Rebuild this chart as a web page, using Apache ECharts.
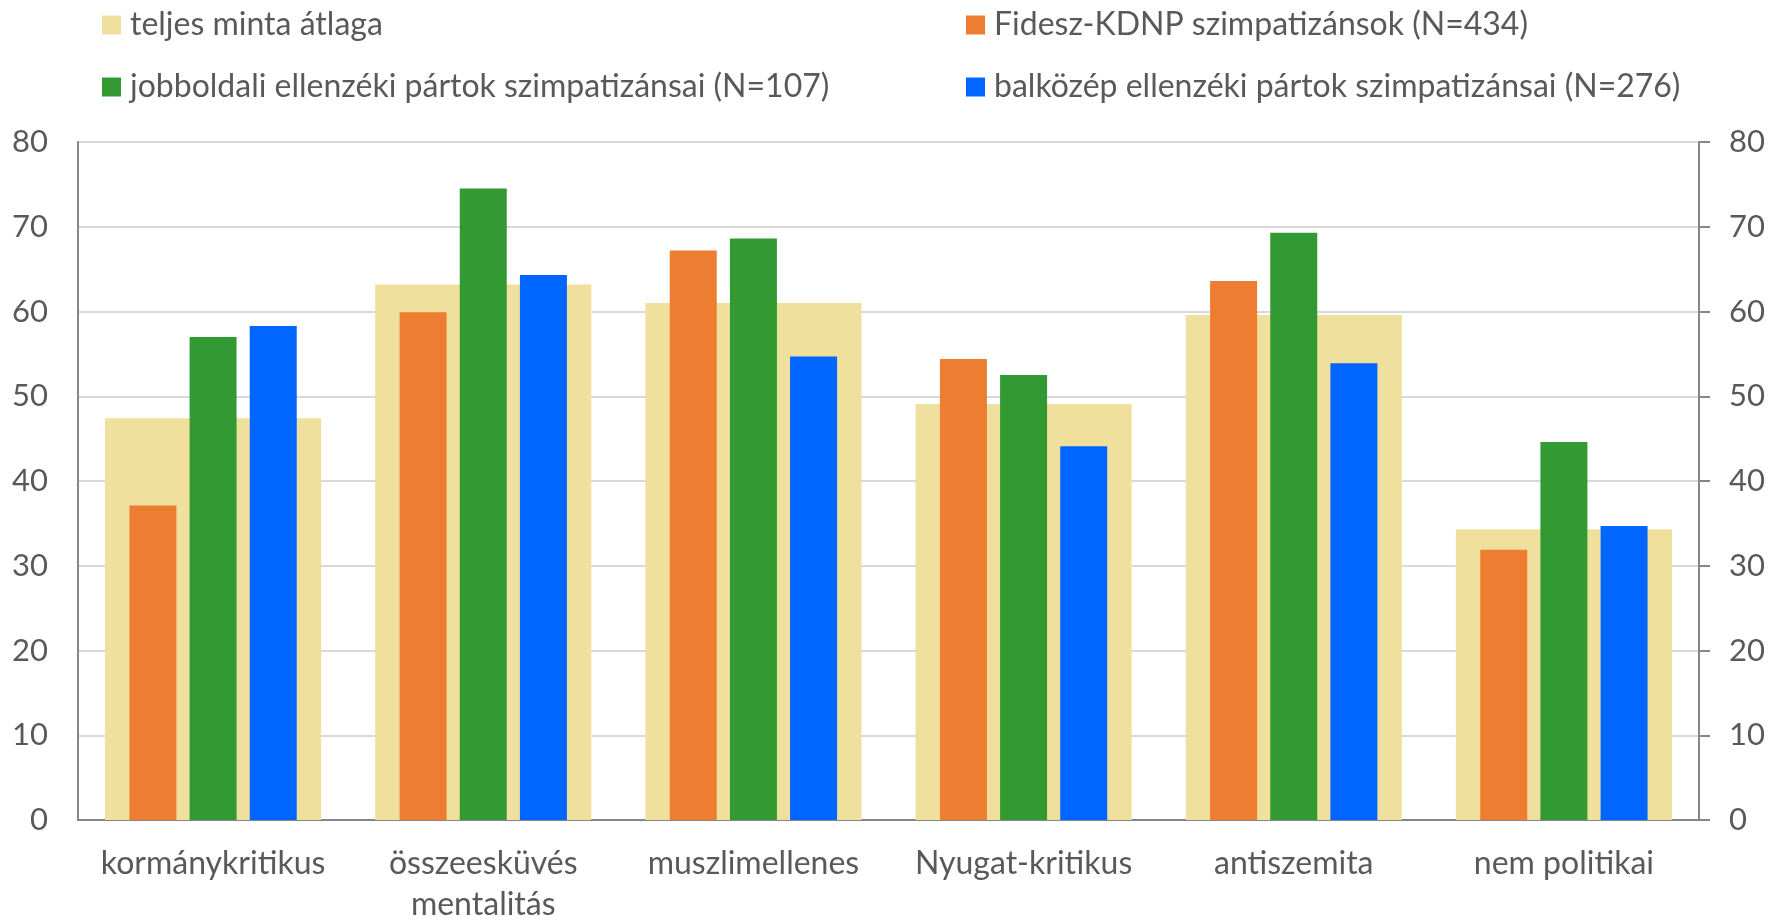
<!DOCTYPE html>
<html>
<head>
<meta charset="utf-8">
<script src="https://cdn.jsdelivr.net/npm/echarts@6/dist/echarts.min.js"></script>
<style>
  html, body { margin: 0; padding: 0; background: #fff; }
  #chart { width: 1785px; height: 920px; }
</style>
</head>
<body>
<div id="chart"></div>
<script>
// kategóriák
const categories = ['kormánykritikus', 'összeesküvés\nmentalitás', 'muszlimellenes', 'Nyugat-kritikus', 'antiszemita', 'nem politikai']
// sorozatok
const teljes = [47.4, 63.2, 61.0, 49.1, 59.6, 34.3]
const fidesz = [37.1, 59.9, 67.2, 54.4, 63.6, 31.9]
const jobboldali = [57.0, 74.5, 68.6, 52.5, 69.3, 44.6]
const balkozep = [58.3, 64.3, 54.7, 44.1, 53.9, 34.7]
const yTicks = [0, 10, 20, 30, 40, 50, 60, 70, 80]

const names = {
  teljes: 'teljes minta átlaga',
  fidesz: 'Fidesz-KDNP szimpatizánsok (N=434)',
  jobb: 'jobboldali ellenzéki pártok szimpatizánsai (N=107)',
  bal: 'balközép ellenzéki pártok szimpatizánsai (N=276)'
}

const font = 'Lato'
const textColor = '#595959'
const axisColor = '#868686'

const legendBase = {
  orient: 'vertical',
  top: 4,
  itemWidth: 19,
  itemHeight: 19,
  itemGap: 30,
  icon: 'rect',
  selectedMode: false,
  textStyle: { fontFamily: font, fontSize: 32, color: textColor, padding: [0, 0, 0, 4] }
}

const yAxisBase = {
  type: 'value',
  min: yTicks[0],
  max: yTicks[yTicks.length - 1],
  interval: 10,
  axisLine: { show: true, lineStyle: { color: axisColor, width: 2 } },
  axisLabel: { fontFamily: font, fontSize: 31, color: textColor, margin: 30 }
}

const options = {
  backgroundColor: '#fff',
  animation: false,
  legend: [
    Object.assign({}, legendBase, { left: 97, data: [names.teljes, names.jobb] }),
    Object.assign({}, legendBase, { left: 961, data: [names.fidesz, names.bal] })
  ],
  // v6: ne húzza össze a rácsot a kétsoros felirat miatt
  grid: { left: 78, right: 86, top: 142, bottom: 100, outerBoundsMode: 'none', containLabel: false },
  xAxis: [
    {
      type: 'category',
      data: categories,
      axisLine: { lineStyle: { color: axisColor, width: 2 } },
      axisTick: { length: 11, lineStyle: { color: axisColor, width: 2 } },
      axisLabel: { fontFamily: font, fontSize: 32, color: textColor, margin: 23, lineHeight: 41, interval: 0 }
    },
    { type: 'category', data: categories, show: false }
  ],
  yAxis: [
    Object.assign({}, yAxisBase, {
      position: 'left',
      axisTick: { show: false },
      splitLine: { lineStyle: { color: '#d9d9d9', width: 2 } }
    }),
    Object.assign({}, yAxisBase, {
      position: 'right',
      axisTick: { show: true, length: 11, lineStyle: { color: axisColor, width: 2 } },
      splitLine: { show: false }
    })
  ],
  series: [
    {
      name: names.teljes,
      type: 'bar',
      xAxisIndex: 0,
      barWidth: '80%',
      itemStyle: { color: '#f0e09e' },
      data: teljes
    },
    {
      name: names.fidesz,
      type: 'bar',
      xAxisIndex: 1,
      barWidth: 47,
      barGap: '28%',
      itemStyle: { color: '#ed7d31' },
      data: fidesz
    },
    {
      name: names.jobb,
      type: 'bar',
      xAxisIndex: 1,
      barWidth: 47,
      barGap: '28%',
      itemStyle: { color: '#339933' },
      data: jobboldali
    },
    {
      name: names.bal,
      type: 'bar',
      xAxisIndex: 1,
      barWidth: 47,
      barGap: '28%',
      itemStyle: { color: '#0066ff' },
      data: balkozep
    }
  ]
}

const chart = echarts.init(document.getElementById('chart'))
chart.setOption(options)
</script>
</body>
</html>
